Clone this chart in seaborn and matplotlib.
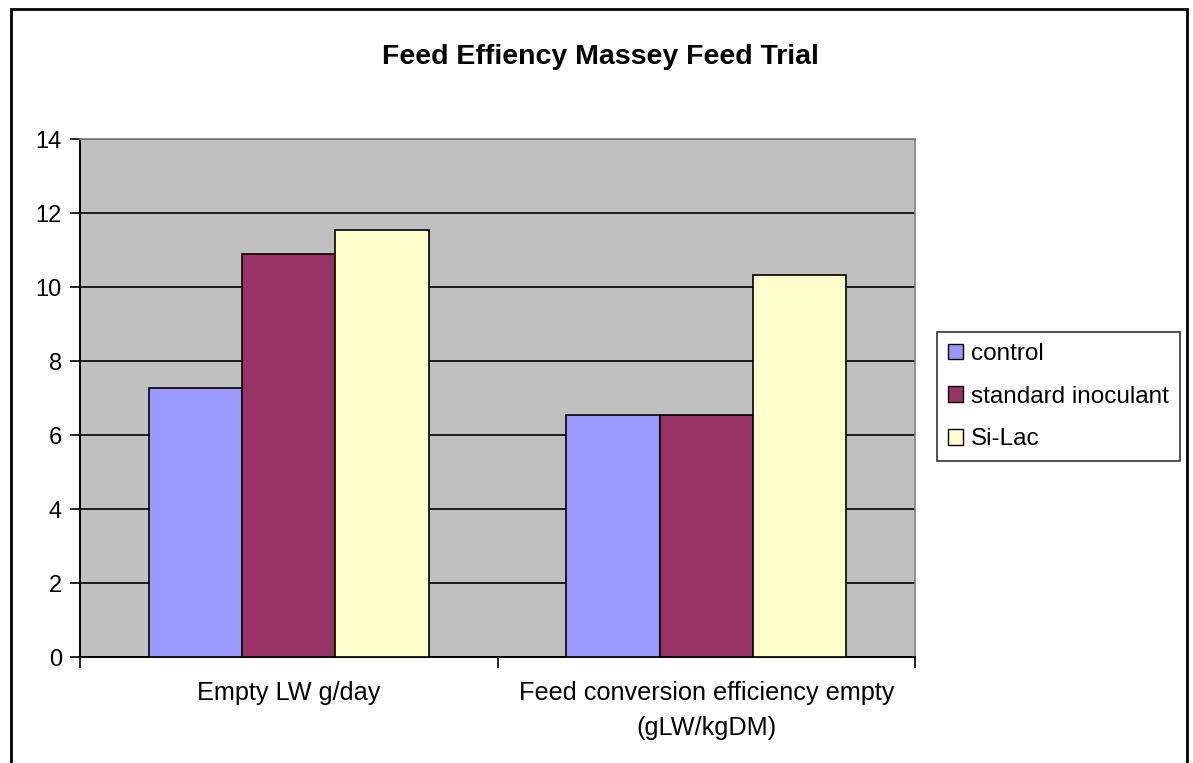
import seaborn as sns
import pandas as pd
import matplotlib.pyplot as plt
from matplotlib.patches import Rectangle

categories = ["Empty LW g/day", "Feed conversion efficiency empty\n(gLW/kgDM)"]
treatments = ["control", "standard inoculant", "Si-Lac"]
control = [7.26, 6.55]
standard_inoculant = [10.88, 6.55]
si_lac = [11.55, 10.32]
colors = ["#9999FF", "#993366", "#FFFFCC"]

rows = []
for name, vals in zip(treatments, [control, standard_inoculant, si_lac]):
    for cat, v in zip(categories, vals):
        rows.append({"category": cat, "treatment": name, "value": v})
df = pd.DataFrame(rows)

sns.set_style("white")
plt.rcParams['font.family'] = ['Liberation Sans', 'DejaVu Sans']
for k in ["text.color", "xtick.color", "ytick.color", "axes.labelcolor"]:
    plt.rcParams[k] = "black"

fig = plt.figure(figsize=(11.93, 7.63), dpi=100)
ax = fig.add_axes([80 / 1193, 1 - 657 / 763, (915 - 80) / 1193, (657 - 139) / 763])

sns.barplot(data=df, x="category", y="value", hue="treatment", hue_order=treatments,
            palette=colors, width=0.67, edgecolor="black", linewidth=1.2,
            saturation=1, ax=ax, legend=False, zorder=3)

ax.set_facecolor("#C0C0C0")
ax.set_ylim(0, 14)
ax.set_xlim(-0.5, 1.5)
ax.set_yticks(range(0, 15, 2))
ax.yaxis.grid(True, color="black", linewidth=1.2, zorder=1)
ax.set_axisbelow(True)
ax.set_xlabel("")
ax.set_ylabel("")
ax.tick_params(axis="y", direction="out", length=7, width=1.2, color="black",
               labelsize=17, pad=6, left=True)
ax.set_xticks([0, 1])
ax.set_xticklabels(categories, fontsize=18.2, linespacing=1.6)
ax.tick_params(axis="x", length=0, pad=17)
ax.set_xticks([-0.5, 0.5, 1.5], minor=True)
ax.tick_params(axis="x", which="minor", direction="out", length=8, width=1.2,
               color="black", bottom=True)
for s in ["left", "bottom"]:
    ax.spines[s].set_color("black")
    ax.spines[s].set_linewidth(1.4)
for s in ["top", "right"]:
    ax.spines[s].set_color("#808080")
    ax.spines[s].set_linewidth(1.2)

fig.text(600 / 1193, 1 - 57 / 763, "Feed Effiency Massey Feed Trial",
         ha="center", va="center", fontsize=20.5, fontweight="bold")

handles = [Rectangle((0, 0), 1, 1, facecolor=c, edgecolor="black", linewidth=1.0)
           for c in colors]
leg = fig.legend(handles, treatments, loc="upper left",
                 bbox_to_anchor=(937 / 1193, 1 - 332 / 763), fontsize=17.5,
                 frameon=True, fancybox=False, shadow=False, handlelength=0.62,
                 handleheight=0.62, handletextpad=0.33, borderpad=0.45,
                 labelspacing=0.85, borderaxespad=0)
leg.get_frame().set_edgecolor("black")
leg.get_frame().set_linewidth(1.2)

fig.patches.append(Rectangle((11 / 1193, -0.05), (1187 - 11) / 1193, 1.05 - 9 / 763,
                             transform=fig.transFigure, fill=False,
                             edgecolor="black", linewidth=2, zorder=10))

fig.savefig("out.png", dpi=100)
